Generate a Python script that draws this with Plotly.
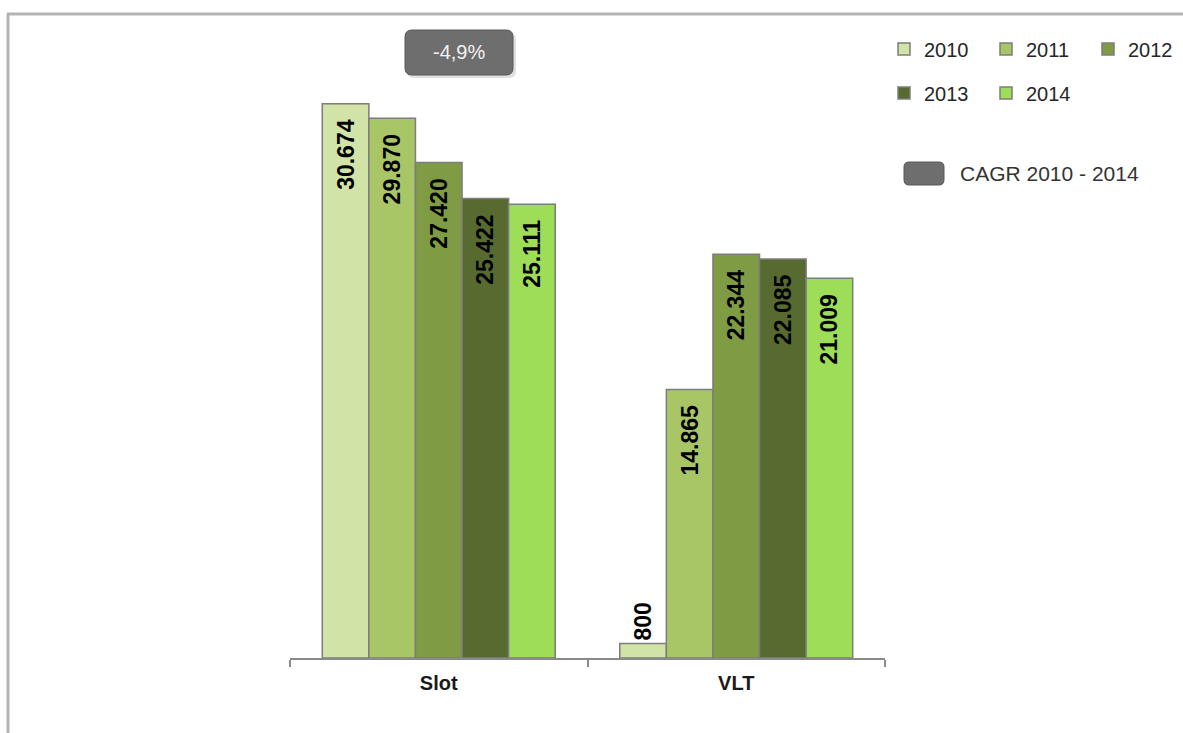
import plotly.graph_objects as go

# Data
categories = ["Slot", "VLT"]
years = ["2010", "2011", "2012", "2013", "2014"]
slot_values = [30674, 29870, 27420, 25422, 25111]
vlt_values = [800, 14865, 22344, 22085, 21009]
bar_colors = ["#d2e3a7", "#a9c667", "#7f9c44", "#576b30", "#9ddd58"]
cagr_value = "-4,9%"
cagr_legend = "CAGR 2010 - 2014"

# Canvas and plot-area geometry (pixels)
W, H = 1183, 733
L, R, T, B = 290, 885, 30, 658
PX_PER_UNIT = 0.01807

FONT = "Liberation Sans, Arial, sans-serif"


def px(x):
    return (x - L) / (R - L)


def py(y):
    return (B - y) / (B - T)


def rounded_rect(x0, y0, x1, y1, r):
    """Rounded rectangle path in paper coordinates from pixel corners."""
    pts = [
        f"M {px(x0 + r)},{py(y0)}",
        f"L {px(x1 - r)},{py(y0)}",
        f"Q {px(x1)},{py(y0)} {px(x1)},{py(y0 + r)}",
        f"L {px(x1)},{py(y1 - r)}",
        f"Q {px(x1)},{py(y1)} {px(x1 - r)},{py(y1)}",
        f"L {px(x0 + r)},{py(y1)}",
        f"Q {px(x0)},{py(y1)} {px(x0)},{py(y1 - r)}",
        f"L {px(x0)},{py(y0 + r)}",
        f"Q {px(x0)},{py(y0)} {px(x0 + r)},{py(y0)}",
        "Z",
    ]
    return " ".join(pts)


fig = go.Figure()

label_font = dict(family=FONT, size=23, color="#000000", weight="bold")

for i, yr in enumerate(years):
    vals = [slot_values[i], vlt_values[i]]
    inside = [v > 2000 for v in vals]
    fig.add_trace(
        go.Bar(
            x=categories,
            y=vals,
            name=yr,
            legend="legend" if i < 3 else "legend2",
            marker=dict(color=bar_colors[i], line=dict(color="#7d7d7d", width=1.5)),
            texttemplate=["%{y:,}\u00a0\u00a0" if ins else "%{y:,}" for ins in inside],
            textposition=["inside" if ins else "outside" for ins in inside],
            insidetextanchor="end",
            textangle=-90,
            textfont=label_font,
            insidetextfont=label_font,
            outsidetextfont=label_font,
            cliponaxis=False,
            hoverinfo="skip",
        )
    )

legend_common = dict(
    orientation="h",
    xanchor="left",
    yanchor="middle",
    x=px(884),
    font=dict(family=FONT, size=20, color="#262626"),
    entrywidth=57,
    entrywidthmode="pixels",
    bgcolor="rgba(0,0,0,0)",
    borderwidth=0,
    traceorder="normal",
)

shapes = [
    # frame lines
    dict(type="line", xref="paper", yref="paper",
         x0=px(7), y0=py(14), x1=px(W), y1=py(14),
         line=dict(color="#b3b3b3", width=3)),
    dict(type="line", xref="paper", yref="paper",
         x0=px(8), y0=py(14), x1=px(8), y1=py(H),
         line=dict(color="#b3b3b3", width=3)),
    # CAGR badge shadow + badge
    dict(type="path", xref="paper", yref="paper",
         path=rounded_rect(407, 33, 516, 78, 7),
         fillcolor="rgba(0,0,0,0.12)", line=dict(width=0)),
    dict(type="path", xref="paper", yref="paper",
         path=rounded_rect(405, 30, 513, 75, 7),
         fillcolor="#6e6e6e", line=dict(color="#585858", width=1)),
    # CAGR legend key
    dict(type="path", xref="paper", yref="paper",
         path=rounded_rect(904, 162, 944, 185, 5),
         fillcolor="#6e6e6e", line=dict(color="#585858", width=1)),
]

annotations = [
    dict(text=cagr_value, xref="paper", yref="paper", x=px(459), y=py(52),
         xanchor="center", yanchor="middle", showarrow=False,
         font=dict(family=FONT, size=20, color="#f2f2f2")),
    dict(text=cagr_legend, xref="paper", yref="paper", x=px(958), y=py(173),
         xanchor="left", yanchor="middle", showarrow=False,
         font=dict(family=FONT, size=21, color="#333333")),
]

fig.update_layout(
    width=W,
    height=H,
    margin=dict(l=L, r=W - R, t=T, b=H - B, pad=0, autoexpand=False),
    paper_bgcolor="white",
    plot_bgcolor="white",
    separators=",.",
    barmode="group",
    bargap=0.217,
    bargroupgap=0,
    showlegend=True,
    legend=dict(legend_common, y=py(49)),
    legend2=dict(legend_common, y=py(93)),
    shapes=shapes,
    annotations=annotations,
    xaxis=dict(
        showline=True,
        linecolor="#8a8a8a",
        linewidth=1.5,
        ticks="outside",
        tickson="boundaries",
        ticklen=7,
        tickwidth=1.5,
        tickcolor="#8a8a8a",
        ticklabelstandoff=6,
        tickfont=dict(family=FONT, size=20, color="#1a1a1a", weight="bold"),
        showgrid=False,
        zeroline=False,
        fixedrange=True,
    ),
    yaxis=dict(
        range=[0, (B - T) / PX_PER_UNIT],
        visible=False,
        showgrid=False,
        zeroline=False,
        fixedrange=True,
    ),
)

fig.write_html("out.html")
